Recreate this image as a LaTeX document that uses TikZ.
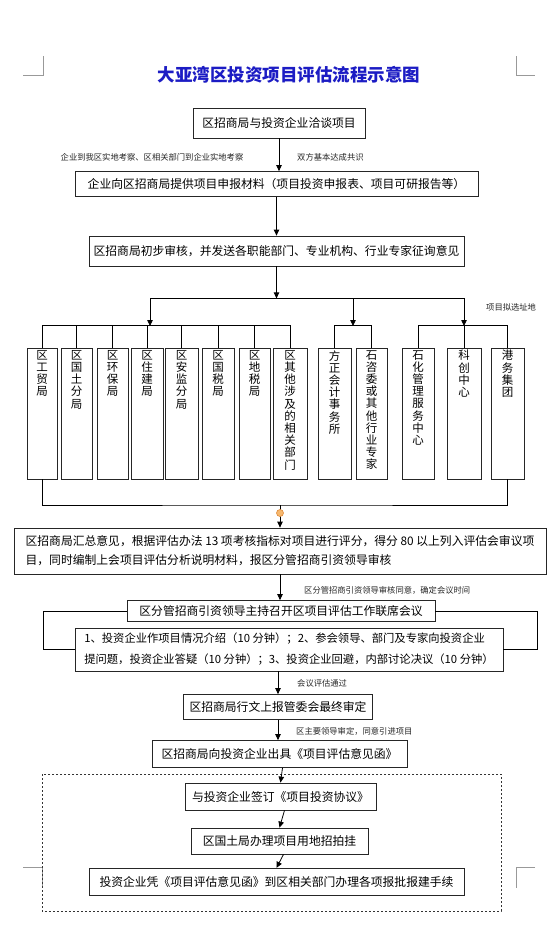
\documentclass[tikz,border=0pt]{standalone}
\usepackage{fontspec}
\setmainfont{Noto Sans CJK SC}
\usepackage{tikz}
\usetikzlibrary{
	arrows.meta,
	positioning,
	calc
}
\usepackage{xcolor}
\definecolor{titleblue}{RGB}{28,28,196}
\definecolor{handlefill}{RGB}{247,184,110}
\definecolor{handledraw}{RGB}{222,138,60}
\XeTeXlinebreaklocale "zh"
\XeTeXlinebreakskip=0pt plus 1pt

\tikzset{
	box/.style={draw=black!85, line width=0.8pt, inner sep=0pt, font=\fontsize{11.8}{19}\selectfont},
	col/.style={draw=black!85, line width=0.8pt, inner sep=0pt, minimum height=131},
	coltext/.style={inner sep=0pt, text width=12pt, align=center, font=\fontsize{11.5}{12.2}\selectfont},
	note/.style={inner sep=0pt, font=\fontsize{8.3}{9}\selectfont, text=black!85},
	flow/.style={-{Triangle[width=5.5pt,length=6pt]}, line width=0.8pt},
	link/.style={line width=0.8pt},
	cropmark/.style={line width=0.7pt, black!40}
}

\begin{document}
\begin{tikzpicture}[x=1pt,y=-1pt]
		
		\useasboundingbox (0,0) rectangle (553,935);
		\fill[white] (0,0) rectangle (553,935);
		
		% Corner marks
		\draw[cropmark] (23,75) -- (43,75) -- (43,56);
		\draw[cropmark] (516,56) -- (516,75) -- (535,75);
		\draw[cropmark] (23,867) -- (42,867) -- (42,888);
		\draw[cropmark] (535,867) -- (516,867) -- (516,888);
		
		% Title
		\node[font=\bfseries\fontsize{17.5}{20}\selectfont, text=titleblue] (title) at (289,75) {大亚湾区投资项目评估流程示意图};
		
		% Upper steps
		\node[box, minimum width=172, minimum height=30] (b1) at (279,123) {区招商局与投资企业洽谈项目};
		\node[box, minimum width=403, minimum height=25] (b2) at (276.5,184) {企业向区招商局提供项目申报材料（项目投资申报表、项目可研报告等）};
		\node[box, minimum width=375, minimum height=30] (b3) at (276.5,251) {区招商局初步审核，并发送各职能部门、专业机构、行业专家征询意见};
		
		\node[note] (n1) at (152,157) {企业到我区实地考察、区相关部门到企业实地考察};
		\node[note, anchor=west] (n2) at (297,157) {双方基本达成共识};
		
		\draw[flow] (b1.south) -- (b1.south |- b2.north);
		\draw[flow] (b2.south) -- (b2.south |- b3.north);
		
		% Departments
		\foreach \i/\x/\w/\t in {
			1/42/30/区工贸局,
			2/76.5/31/区国土分局,
			3/112.5/31/区环保局,
			4/147/32/区住建局,
			5/181.5/33/区安监分局,
			6/218/32/区国税局,
			7/254.5/31/区地税局,
			8/290/34/区其他涉及的相关部门,
			9/334.5/33/方正会计事务所,
			10/371.5/31/石咨委或其他行业专家,
			11/418/32/石化管理服务中心,
			12/464/34/科创中心,
			13/507.5/33/港务集团}{
			\node[col, minimum width=\w] (c\i) at (\x,413.5) {};
			\node[coltext, below=2.5pt of c\i.north] (t\i) {\t};
		}
		
		% Split to the three groups
		\path (b3.south) ++(0,32) coordinate (split);
		\coordinate (g1) at (150,326);
		\coordinate (g2) at (353,326);
		\coordinate (g3) at (464,326);
		\draw[flow] (b3.south) -- (split);
		\draw[link] (g1 |- split) -- (g3 |- split);
		\foreach \g in {g1,g2,g3}
			\draw[flow] (\g |- split) -- (\g);
		
		\draw[link] (c1.north) -- ++(0,-22) -| (c8.north);
		\foreach \i in {2,...,7}
			\draw[link] (c\i.north) -- ++(0,-22);
		\draw[link] (c9.north) -- ++(0,-22) -| (c10.north);
		\draw[link] (c11.north) -- ++(0,-22) -| (c13.north);
		\draw[link] (c12.north) -- ++(0,-22);
		
		\node[note, anchor=west] (n3) at (486,307) {项目拟选址地};
		
		% Summary and meeting
		\node[box, minimum width=532, minimum height=46, align=left] (b4) at (280,551)
		{区招商局汇总意见，根据评估办法 13 项考核指标对项目进行评分，得分 80 以上列入评估会审议项\\目，同时编制上会项目评估分析说明材料，报区分管招商引资领导审核};
		
		\coordinate (join) at (280,505);
		\draw[link] (c1.south) |- (join) -| (c13.south);
		\draw[flow] (join) -- (b4.north);
		\filldraw[fill=handlefill, draw=handledraw, line width=0.6pt] (join) ++(0,8) circle (3.5);
		
		\node[box, minimum width=308, minimum height=21] (b5) at (281,611) {区分管招商引资领导主持召开区项目评估工作联席会议};
		\node[box, minimum width=428, minimum height=43, align=left, font=\fontsize{11.3}{21}\selectfont] (b6) at (289,649.5)
		{1、投资企业作项目情况介绍（10 分钟）；2、参会领导、部门及专家向投资企业\\提问题，投资企业答疑（10 分钟）；3、投资企业回避，内部讨论决议（10 分钟）};
		
		\draw[flow] (b4.south) -- (b4.south |- b5.north);
		\node[note, anchor=west] (n4) at (304,590) {区分管招商引资领导审核同意，确定会议时间};
		
		\coordinate (loopl) at (43,0);
		\coordinate (loopr) at (537,0);
		\draw[link] (b5.west) -| (loopl |- b6.west) -- (b6.west);
		\draw[link] (b5.east) -| (loopr |- b6.east) -- (b6.east);
		
		% Approval
		\node[box, minimum width=189, minimum height=25] (b7) at (278,707) {区招商局行文上报管委会最终审定};
		\node[box, minimum width=255, minimum height=27] (b8) at (279.5,754) {区招商局向投资企业出具《项目评估意见函》};
		
		\draw[flow] (b7.north |- b6.south) -- (b7.north);
		\draw[flow] (b7.south) -- (b7.south |- b8.north);
		\node[note, anchor=west] (n5) at (297,683) {会议评估通过};
		\node[note, anchor=west] (n6) at (296,731) {区主要领导审定，同意引进项目};
		
		% Follow-up
		\draw[dash pattern=on 2.2pt off 1.8pt, line width=0.9pt, black!80] (42,774) rectangle (501,911);
		
		\node[box, minimum width=191, minimum height=27] (b9) at (280.5,796.5) {与投资企业签订《项目投资协议》};
		\node[box, minimum width=177, minimum height=26] (b10) at (279.5,841) {区国土局办理项目用地招拍挂};
		\node[box, minimum width=375, minimum height=27.5] (b11) at (276.5,882) {投资企业凭《项目评估意见函》到区相关部门办理各项报批报建手续};
		
		\draw[flow] ([xshift=3pt]b8.south) -- (b9.north);
		\draw[flow] ([xshift=4pt]b9.south) -- (b10.north);
		\draw[flow] ([xshift=4pt]b10.south) -- (b11.north);
		
	\end{tikzpicture}
\end{document}
